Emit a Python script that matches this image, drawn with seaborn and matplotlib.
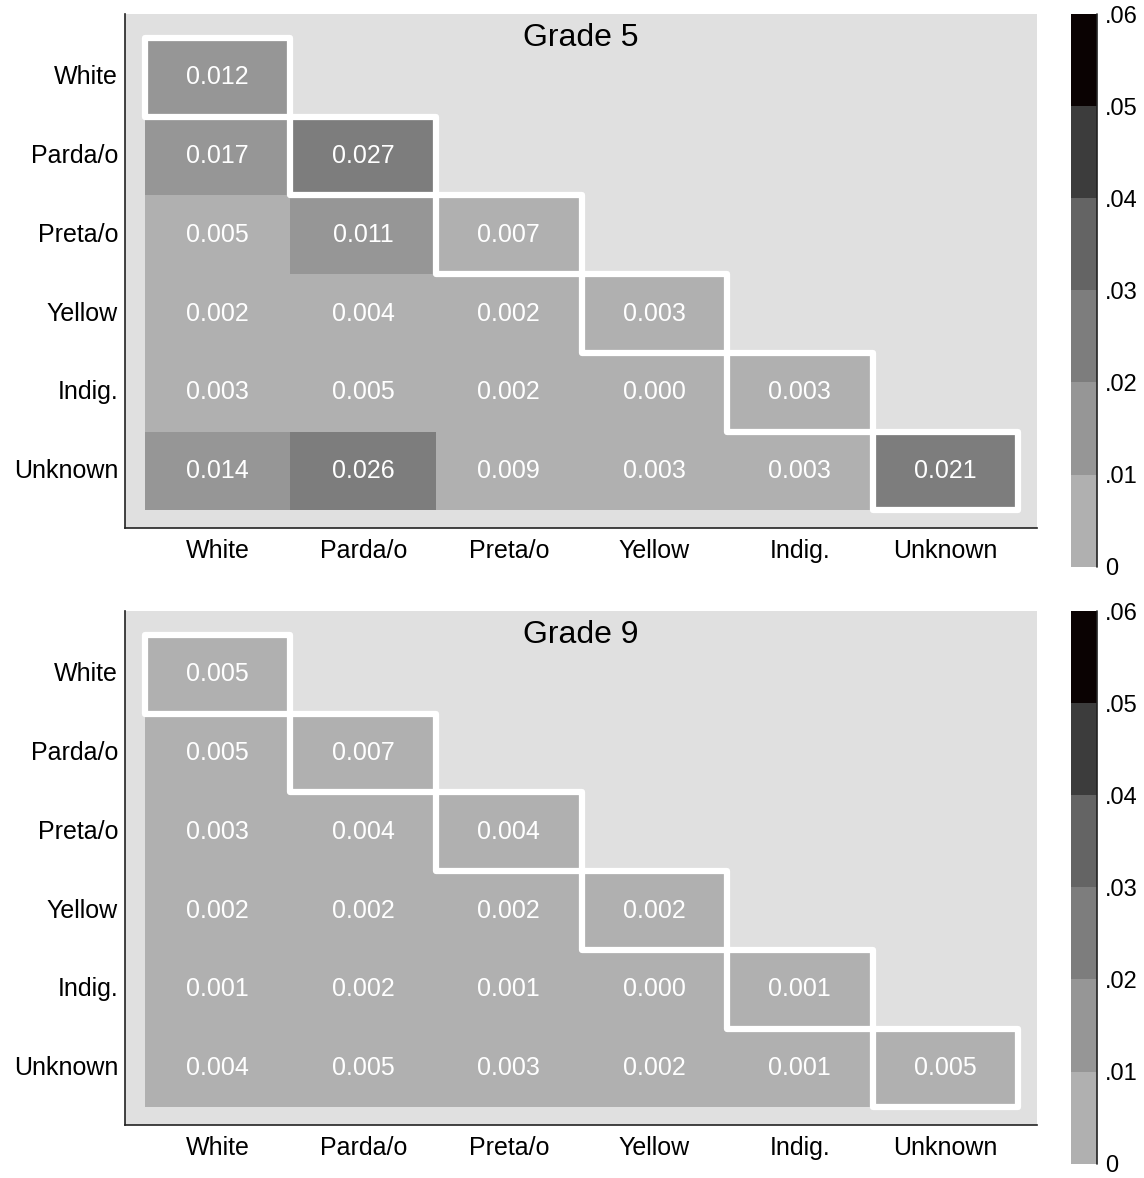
import numpy as np
import pandas as pd
import matplotlib
matplotlib.use("Agg")
import matplotlib.pyplot as plt
import seaborn as sns
from matplotlib.colors import ListedColormap, BoundaryNorm
from matplotlib.patches import Rectangle

groups = ["White", "Parda/o", "Preta/o", "Yellow", "Indig.", "Unknown"]

# lower triangle, row by row
grade5 = [
    [0.012],
    [0.017, 0.027],
    [0.005, 0.011, 0.007],
    [0.002, 0.004, 0.002, 0.003],
    [0.003, 0.005, 0.002, 0.000, 0.003],
    [0.014, 0.026, 0.009, 0.003, 0.003, 0.021],
]
grade9 = [
    [0.005],
    [0.005, 0.007],
    [0.003, 0.004, 0.004],
    [0.002, 0.002, 0.002, 0.002],
    [0.001, 0.002, 0.001, 0.000, 0.001],
    [0.004, 0.005, 0.003, 0.002, 0.001, 0.005],
]
bounds = [0, 0.01, 0.02, 0.03, 0.04, 0.05, 0.06]
bound_labels = ["0", ".01", ".02", ".03", ".04", ".05", ".06"]
level_colors = ["#b0b0b0", "#969696", "#7d7d7d", "#646464", "#3c3c3c", "#0a0202"]

sns.set_style("white")
plt.rcParams["font.family"] = ["Liberation Sans", "DejaVu Sans"]
plt.rcParams["text.color"] = "black"

cmap = ListedColormap(level_colors)
norm = BoundaryNorm(bounds, cmap.N)


def to_frame(tri):
    n = len(groups)
    m = np.full((n, n), np.nan)
    for i, row in enumerate(tri):
        m[i, :len(row)] = row
    return pd.DataFrame(m, index=groups, columns=groups)


fig = plt.figure(figsize=(11.44, 11.78), dpi=100)

panels = [("Grade 5", grade5, 0.5518, 0.5190), ("Grade 9", grade9, 0.0450, 0.0122)]
for title, tri, ax_bottom, cb_bottom in panels:
    ax = fig.add_axes([0.1093, ax_bottom, 0.7972, 0.4363])
    cax = fig.add_axes([0.9362, cb_bottom, 0.0227, 0.4691])
    df = to_frame(tri)
    mask = np.triu(np.ones(df.shape, dtype=bool), k=1)
    sns.heatmap(df, mask=mask, cmap=cmap, norm=norm, annot=True, fmt=".3f",
                annot_kws={"color": "white", "fontsize": 18},
                cbar_ax=cax, ax=ax)
    ax.set_facecolor("#e0e0e0")
    ax.set_xlim(-0.137, 6.13)
    ax.set_ylim(6.225, -0.305)
    for s in ["top", "right"]:
        ax.spines[s].set_visible(False)
    for s in ["left", "bottom"]:
        ax.spines[s].set_visible(True)
        ax.spines[s].set_color("#222222")
        ax.spines[s].set_linewidth(1.2)
    ax.tick_params(axis="both", length=0, labelsize=18, colors="black")
    ax.tick_params(axis="x", pad=8)
    ax.tick_params(axis="y", pad=5)
    plt.setp(ax.get_yticklabels(), rotation=0)
    plt.setp(ax.get_xticklabels(), rotation=0)
    ax.text(0.5, 0.953, title, transform=ax.transAxes, ha="center", va="center",
            fontsize=23, color="black")

    # white outline around the diagonal cells
    for i in range(len(groups)):
        ax.add_patch(Rectangle((i, i), 1, 1, fill=False, edgecolor="white",
                               linewidth=4.5, joinstyle="round", zorder=5,
                               clip_on=False))

    cbar = ax.collections[0].colorbar
    cbar.set_ticks(bounds)
    cbar.set_ticklabels(bound_labels)
    cbar.outline.set_visible(False)
    cax.tick_params(length=0, labelsize=17, pad=6, colors="black")
    cax.plot([1, 1], [0, 1], transform=cax.transAxes, color="#222222",
             linewidth=1.2, clip_on=False)

fig.savefig("out.png", dpi=100)
